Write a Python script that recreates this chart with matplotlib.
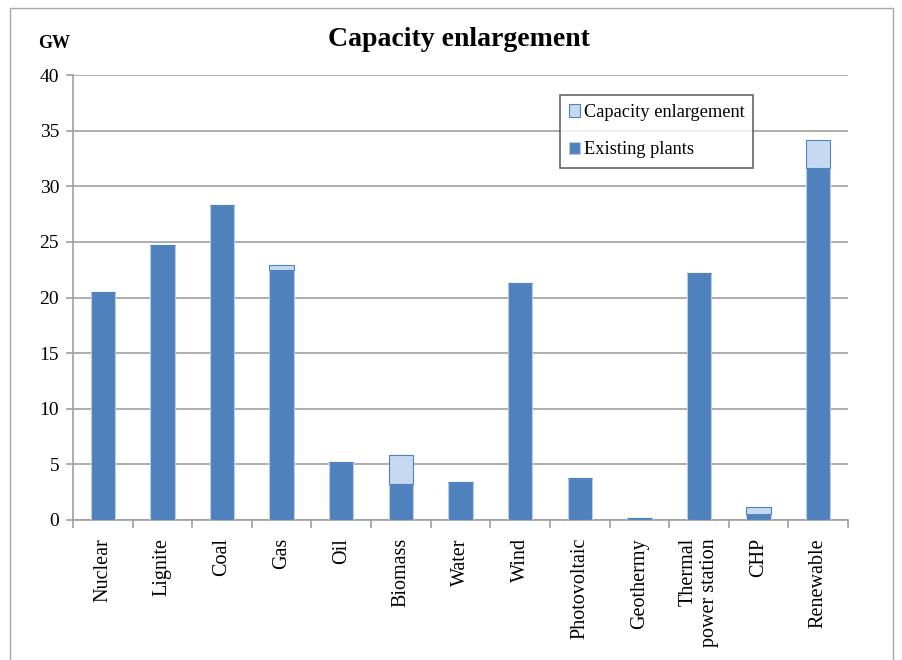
import matplotlib
matplotlib.use("Agg")
import matplotlib.pyplot as plt
from matplotlib.patches import Rectangle
import numpy as np

categories = ["Nuclear", "Lignite", "Coal", "Gas", "Oil", "Biomass", "Water", "Wind",
              "Photovoltaic", "Geothermy", "Thermal\npower station", "CHP", "Renewable"]
existing = [20.5, 24.7, 28.3, 22.5, 5.2, 3.2, 3.4, 21.3, 3.8, 0.15, 22.2, 0.55, 31.6]
enlargement = [0.0, 0.0, 0.0, 0.45, 0.0, 2.6, 0.0, 0.0, 0.0, 0.0, 0.0, 0.6, 2.6]
yticks = [0, 5, 10, 15, 20, 25, 30, 35, 40]

plt.rcParams['font.family'] = ['Liberation Serif', 'DejaVu Serif']

fig = plt.figure(figsize=(9.03, 6.6), dpi=100)
fig.patches.append(Rectangle((10/903, -0.01), 883/903, 1 - 8/660 + 0.01, transform=fig.transFigure,
                             fill=False, edgecolor='#A6A6A6', linewidth=1.0))
ax = fig.add_axes([73/903, 1 - 520/660, 775/903, 445/660])

x = np.arange(len(categories))
w = 0.41
ax.bar(x, existing, width=w, color='#4F81BD', edgecolor='#B9CDE5', linewidth=0.8,
       label='Existing plants', zorder=3)
ax.bar(x, enlargement, width=w, bottom=existing, color='#C6D9F1', edgecolor='#4F81BD',
       linewidth=0.8, label='Capacity enlargement', zorder=3)

ax.set_xlim(-0.5, len(categories) - 0.5)
ax.set_ylim(0, 40)
ax.set_yticks(yticks)
ax.set_yticklabels([str(v) for v in yticks], fontsize=14)
ax.grid(axis='y', color='#A0A0A0', linewidth=1.2, zorder=0)
for s in ['top', 'right']:
    ax.spines[s].set_visible(False)
for s in ['left', 'bottom']:
    ax.spines[s].set_color('#A0A0A0')
    ax.spines[s].set_linewidth(1.2)
ax.tick_params(axis='y', length=5, color='#A0A0A0', width=1.2, pad=5)

ax.set_xticks(x)
ax.set_xticklabels(categories, rotation=90, fontsize=14.5, va='top', ha='center',
                   multialignment='right')
ax.tick_params(axis='x', which='major', length=0, pad=13)
ax.set_xticks(np.arange(-0.5, len(categories) + 0.5, 1), minor=True)
ax.tick_params(axis='x', which='minor', length=6, color='#A0A0A0', width=1.2)

fig.text(459/903, 1 - 40/660, "Capacity enlargement", fontsize=20, fontweight='bold',
         ha='center', va='center')
fig.text(38/903, 1 - 43/660, "GW", fontsize=13, fontweight='bold', ha='left', va='center')

handles, labels = ax.get_legend_handles_labels()
leg = ax.legend(handles[::-1], labels[::-1], loc='upper left', bbox_to_anchor=(0.628, 0.955),
                fontsize=13.2, frameon=True, fancybox=False, shadow=False,
                handlelength=0.6, handleheight=0.7, handletextpad=0.2, labelspacing=1.1,
                borderpad=0.5, borderaxespad=0)
leg.get_frame().set_edgecolor('#404040')
leg.get_frame().set_linewidth(1.2)

fig.savefig("out.png", dpi=100)
